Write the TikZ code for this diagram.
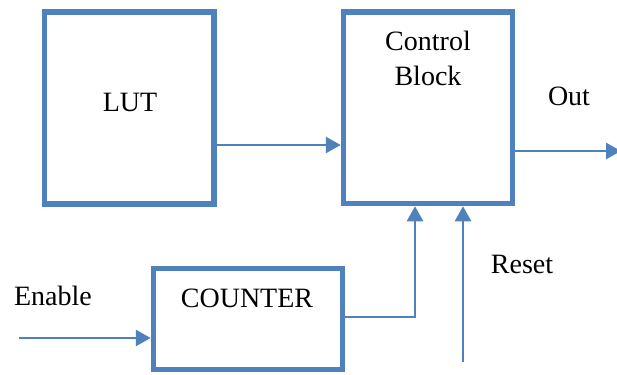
\documentclass[tikz,border=0pt]{standalone}
\usepackage{fontspec}
\setmainfont{LiberationSerif}[Extension=.ttf, UprightFont=*-Regular, BoldFont=*-Bold]
\usetikzlibrary{arrows.meta}
\definecolor{blockblue}{RGB}{79,129,189}
\tikzset{
  block/.style={draw=blockblue, line width=5.5pt, inner sep=0pt, minimum width=#1},
  wire/.style={draw=blockblue, line width=2.7pt},
  sig/.style={wire, -{Triangle[length=15pt,width=16pt]}},
  lbl/.style={inner sep=0pt, font=\fontsize{28}{35}\selectfont, align=center}
}
\begin{document}
\begin{tikzpicture}[x=1pt,y=-1pt]
\useasboundingbox (0,0) rectangle (617,374);
% blocks
\node[block=169.5pt, minimum height=192pt] (lut) at (129.25,108) {};
\node[block=169pt, minimum height=191.5pt] (ctrl) at (428,107.75) {};
\node[block=189pt, minimum height=101pt] (cnt) at (248,319) {};
% labels
\node[lbl] (lutlbl) at (130,102) {LUT};
\node[lbl] (ctrllbl) at (428,58) {Control\\Block};
\node[lbl] (cntlbl) at (247,298) {COUNTER};
\node[lbl] (outlbl) at (569,96) {Out};
\node[lbl] (rstlbl) at (522,264) {Reset};
\node[lbl] (enlbl) at (53,296) {Enable};
% free ends
\coordinate (enin) at (19,338);
\coordinate (rstin) at (463,362);
\coordinate (outend) at (621,151);
% connectors
\draw[sig] (lut.east |- 0,145) -- (ctrl.west |- 0,145);
\draw[sig] (ctrl.east |- outend) -- (outend);
\draw[sig] (cnt.east |- 0,317) -| (ctrl.south -| 415,0);
\draw[sig] (rstin) -- (rstin |- ctrl.south);
\draw[sig] (enin) -- (enin -| cnt.west);
\end{tikzpicture}
\end{document}
